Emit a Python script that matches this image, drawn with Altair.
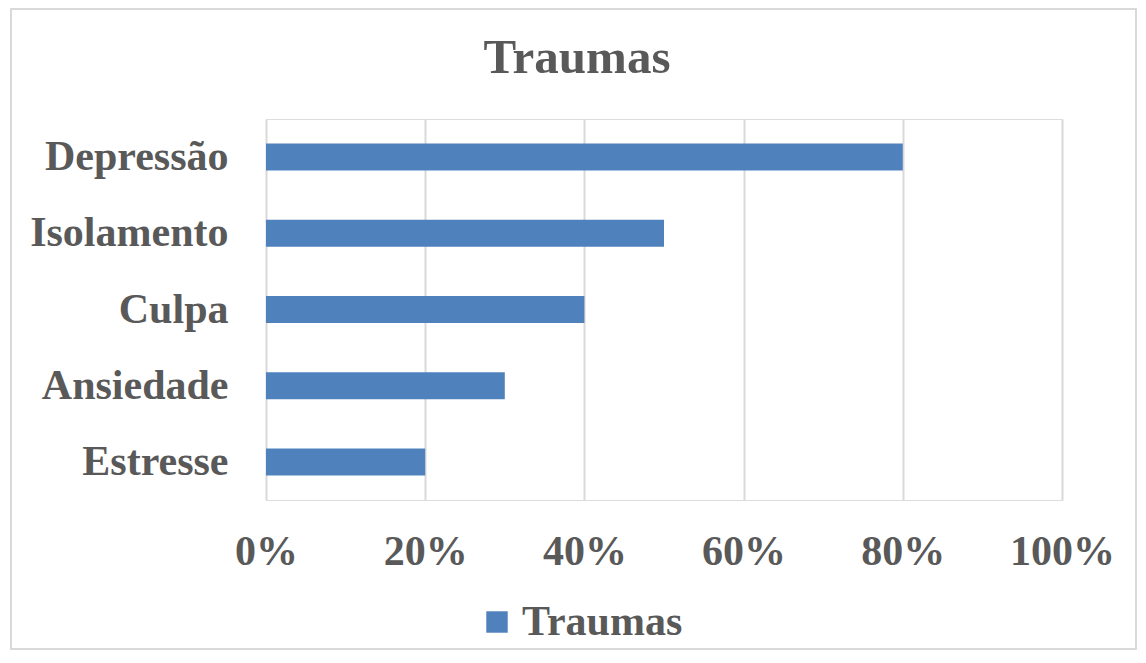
import altair as alt
import pandas as pd

categories = ["Depressão", "Isolamento", "Culpa", "Ansiedade", "Estresse"]
values = [0.80, 0.50, 0.40, 0.30, 0.20]
series = ["Traumas"] * len(categories)
x_ticks = [0, 0.2, 0.4, 0.6, 0.8, 1.0]
title_text = "Traumas"

df = pd.DataFrame({"categoria": categories, "valor": values, "serie": series})

FONT = "Liberation Serif"
GRAY = "#595959"
FS = 42

PLOT_W, PLOT_H = 796, 381
PAD_L, PAD_T, PAD_R, PAD_B = 258, 111, 76, 151

bars = alt.Chart(df).mark_bar(color="#4F81BD").encode(
    x=alt.X("valor:Q",
            scale=alt.Scale(domain=[0, 1], nice=False),
            axis=alt.Axis(values=x_ticks, format=".0%", title=None,
                          grid=True, gridColor="#D9D9D9", gridWidth=2,
                          domain=False, ticks=False, labelFlush=False,
                          labelFont=FONT, labelFontSize=FS, labelFontWeight="bold",
                          labelColor=GRAY, labelPadding=31)),
    y=alt.Y("categoria:N", sort=categories,
            scale=alt.Scale(paddingInner=0.646, paddingOuter=0.323),
            axis=alt.Axis(title=None, domain=False, ticks=False, grid=False,
                          labelFont=FONT, labelFontSize=FS, labelFontWeight="bold",
                          labelColor=GRAY, labelPadding=38, labelLimit=400)),
    color=alt.Color("serie:N",
                    scale=alt.Scale(domain=["Traumas"], range=["#4F81BD"]),
                    legend=alt.Legend(title=None, orient="none", legendX=210, legendY=482,
                                      direction="horizontal", symbolType="square",
                                      symbolSize=460, symbolStrokeWidth=0,
                                      labelFont=FONT, labelFontSize=FS,
                                      labelFontWeight="bold", labelColor=GRAY,
                                      labelOffset=4, labelLimit=400)),
)

title = alt.Chart(pd.DataFrame({"t": [title_text]})).mark_text(
    font=FONT, fontSize=49, fontWeight="bold", color=GRAY,
    align="center", baseline="alphabetic"
).encode(text="t:N", x=alt.value(311), y=alt.value(-46))

border = alt.Chart(pd.DataFrame({"b": [0]})).mark_rect(
    fill=None, stroke="#D9D9D9", strokeWidth=2
).encode(
    x=alt.value(-255), x2=alt.value(PLOT_W + PAD_R - 2),
    y=alt.value(-110), y2=alt.value(PLOT_H + PAD_B - 2),
)

chart = alt.layer(bars, title, border).properties(
    width=PLOT_W, height=PLOT_H,
    autosize=alt.AutoSizeParams(type="none"),
    padding={"left": PAD_L, "top": PAD_T, "right": PAD_R, "bottom": PAD_B},
).configure_view(strokeWidth=0, strokeOpacity=0).configure(background="white")

chart.save("out.html", embed_options={"renderer": "svg", "actions": False})
